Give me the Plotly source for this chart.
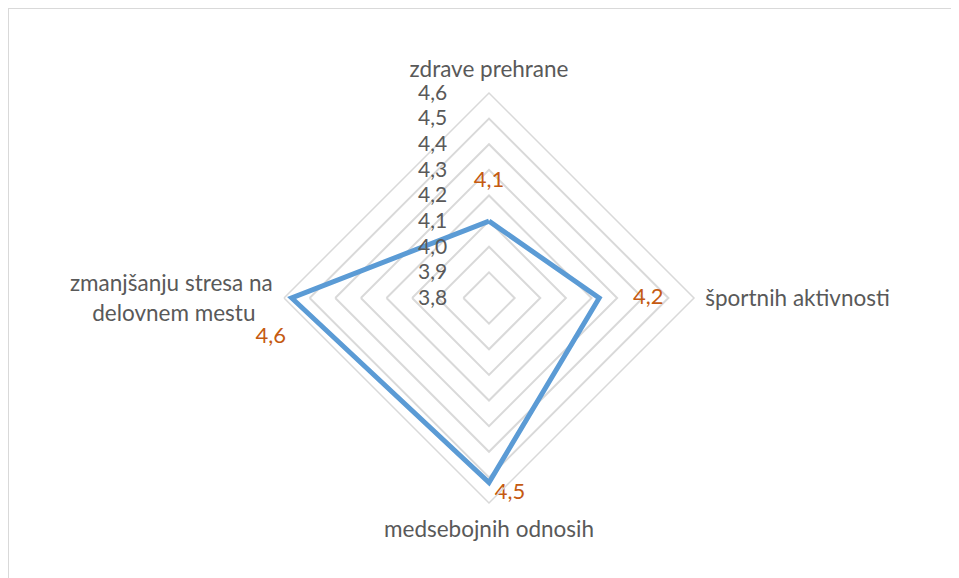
import plotly.graph_objects as go

categories = ["zdrave prehrane", "športnih aktivnosti", "medsebojnih odnosih", "zmanjšanju stresa na delovnem mestu"]
values = [4.10, 4.23, 4.52, 4.57]
label_texts = ["4,1", "4,2", "4,5", "4,6"]
tick_vals = [3.8, 3.9, 4.0, 4.1, 4.2, 4.3, 4.4, 4.5, 4.6]

FONT = "Lato"
FS_TICK = 21
FS_CAT = 22.5
FS_LAB = 22
GREY = "#595959"
GRID = "#D9D9D9"
ORANGE = "#C55A11"
BLUE = "#5B9BD5"

nb = "\u00a0"
# category labels as displayed (left one wrapped on two centred lines)
cat_display = [
    categories[0],
    categories[1],
    categories[2],
    "zmanjšanju stresa na<br>delovnem mestu" + nb * 3,
]
display_text = [
    label_texts[0] + "<br>" + nb,
    nb * 6 + label_texts[1],
    nb + label_texts[2],
    nb + "<br>" + label_texts[3] + nb,
]

fig = go.Figure()
fig.add_trace(go.Scatterpolar(
    r=values + [values[0]],
    theta=cat_display + [cat_display[0]],
    mode="lines",
    line=dict(color=BLUE, width=5),
    hoverinfo="skip",
    showlegend=False,
))
fig.add_trace(go.Scatterpolar(
    r=values,
    theta=cat_display,
    mode="text",
    text=display_text,
    textposition=["top center", "middle right", "bottom right", "bottom left"],
    textfont=dict(family=FONT, size=FS_LAB, color=ORANGE),
    hoverinfo="skip",
    showlegend=False,
))

L, T, D = 276, 85, 410
fig.update_layout(
    width=959,
    height=578,
    margin=dict(l=L, r=959 - L - D, t=T, b=578 - T - D),
    paper_bgcolor="white",
    plot_bgcolor="white",
    separators=", ",
    font=dict(family=FONT, size=FS_CAT, color=GREY),
    polar=dict(
        bgcolor="white",
        gridshape="linear",
        radialaxis=dict(
            range=[3.8, 4.6],
            tickvals=tick_vals,
            tickformat=".1f",
            angle=90,
            tickangle=90,
            showline=False,
            showgrid=True,
            gridcolor=GRID,
            gridwidth=1.5,
            ticks="outside",
            ticklen=34,
            tickcolor="rgba(0,0,0,0)",
            tickfont=dict(family=FONT, size=FS_TICK, color=GREY),
            side="counterclockwise",
        ),
        angularaxis=dict(
            rotation=90,
            direction="clockwise",
            showgrid=False,
            showline=True,
            linecolor=GRID,
            linewidth=1.5,
            ticks="outside",
            ticklen=6,
            tickcolor="rgba(0,0,0,0)",
            tickfont=dict(family=FONT, size=FS_CAT, color=GREY),
        ),
    ),
    shapes=[dict(
        type="rect", xref="paper", yref="paper",
        x0=-L / D, y0=-1.0,
        x1=3.0, y1=1 + T / D,
        line=dict(color="#D9D9D9", width=2),
        fillcolor="rgba(0,0,0,0)",
        layer="below",
    )],
)

fig.write_html("out.html")
